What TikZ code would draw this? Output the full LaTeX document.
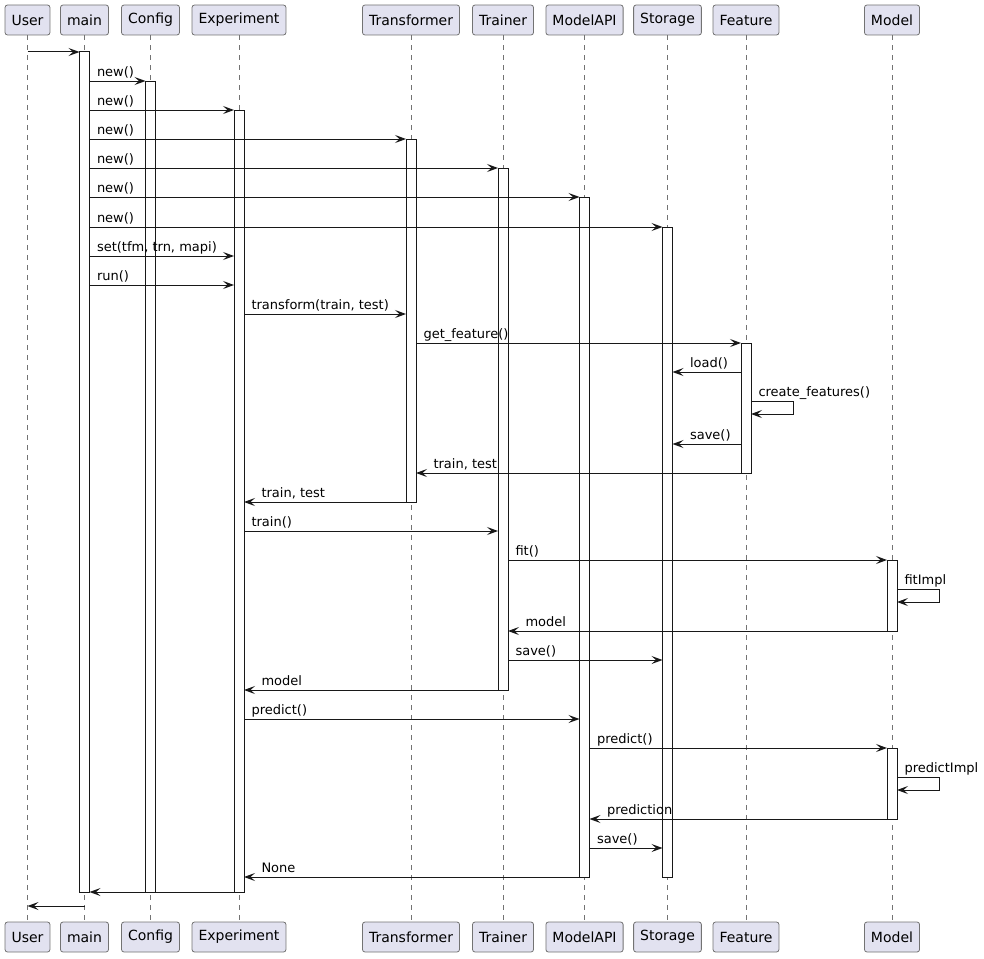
\documentclass[tikz,border=0pt]{standalone}
\usepackage{fontspec}
\setmainfont{DejaVu Sans}
\usetikzlibrary{arrows.meta}
\definecolor{partfill}{HTML}{E2E2F0}
\definecolor{ink}{HTML}{181818}
\tikzset{
  part/.style={draw=black!55, line width=0.8pt, fill=partfill, rounded corners=2.5pt,
    minimum height=30pt, inner xsep=6.5pt, inner ysep=0pt, font=\fontsize{14}{16}\selectfont},
  life/.style={draw=black!55, line width=0.6pt, dash pattern=on 5pt off 5pt},
  bar/.style={draw=ink, line width=1pt, fill=white, minimum width=10pt, inner sep=0pt,
    outer sep=0pt, anchor=north},
  msg/.style={draw=ink, line width=1pt, -{Stealth[length=11pt,width=8pt,inset=4.5pt]}},
  lbl/.style={anchor=base west, inner sep=0pt, yshift=5pt, font=\fontsize{13}{15}\selectfont}
}
\newcommand\actbar[4]{\node[bar, minimum height=#4pt-#3pt] (#1) at (#2 |- 0,#3) {};}
\newcommand\callto[4]{\draw[msg] (#1 |- 0,#3) node[lbl, xshift=7pt]{#4} -- (#2 |- 0,#3);}
\newcommand\callback[4]{\draw[msg] (#1 |- 0,#3) -- (#2 |- 0,#3) node[lbl, xshift=17pt]{#4};}
\newcommand\callself[4]{\draw[msg] (#1 |- 0,#2) node[lbl, xshift=7pt]{#4} -- ++(42,0) -- ++(0,13) -- (#1 |- 0,#3);}
\begin{document}
\begin{tikzpicture}[x=1pt, y=-1pt]
  \useasboundingbox (0,0) rectangle (984,958);

  % participants, top and bottom, with their lifelines
  \foreach \n/\x/\t in {user/27.5/User, main/84.5/main, config/150.5/Config, exp/239/Experiment,
      tfm/411/Transformer, trn/503/Trainer, mapi/584.5/ModelAPI, store/667.5/Storage,
      feat/746/Feature, model/892/Model}{
    \node[part] (\n) at (\x,20) {\t};
    \node[part] (\n-b) at (\x,937) {\t};
    \draw[life] (\n.south) -- (\n-b.north);
  }

  % activations
  \actbar{mainA}{main}{52}{892}
  \actbar{configA}{config}{81}{892}
  \actbar{expA}{exp}{110}{892}
  \actbar{tfmA}{tfm}{139}{502}
  \actbar{trnA}{trn}{168}{690}
  \actbar{mapiA}{mapi}{197}{877}
  \actbar{storeA}{store}{227}{877}
  \actbar{featA}{feat}{343}{473}
  \actbar{modelA}{model}{560}{631}
  \actbar{modelB}{model}{748}{819}

  % messages
  \draw[msg] (user |- 0,52) -- (mainA.west |- 0,52);
  \callto{mainA.east}{configA.west}{81}{new()}
  \callto{mainA.east}{expA.west}{110}{new()}
  \callto{mainA.east}{tfmA.west}{139}{new()}
  \callto{mainA.east}{trnA.west}{168}{new()}
  \callto{mainA.east}{mapiA.west}{197}{new()}
  \callto{mainA.east}{storeA.west}{227}{new()}
  \callto{mainA.east}{expA.west}{256}{set(tfm, trn, mapi)}
  \callto{mainA.east}{expA.west}{285}{run()}
  \callto{expA.east}{tfmA.west}{314}{transform(train, test)}
  \callto{tfmA.east}{featA.west}{343}{get\_feature()}
  \callback{featA.west}{storeA.east}{372}{load()}
  \callself{featA.east}{401}{414}{create\_features()}
  \callback{featA.west}{storeA.east}{444}{save()}
  \callback{featA.west}{tfmA.east}{473}{train, test}
  \callback{tfmA.west}{expA.east}{502}{train, test}
  \callto{expA.east}{trnA.west}{531}{train()}
  \callto{trnA.east}{modelA.west}{560}{fit()}
  \callself{modelA.east}{589}{602}{fitImpl}
  \callback{modelA.west}{trnA.east}{631}{model}
  \callto{trnA.east}{storeA.west}{660}{save()}
  \callback{trnA.west}{expA.east}{690}{model}
  \callto{expA.east}{mapiA.west}{719}{predict()}
  \callto{mapiA.east}{modelB.west}{748}{predict()}
  \callself{modelB.east}{777}{790}{predictImpl}
  \callback{modelB.west}{mapiA.east}{819}{prediction}
  \callto{mapiA.east}{storeA.west}{848}{save()}
  \callback{mapiA.west}{expA.east}{877}{None}
  \draw[msg] (expA.west |- 0,892) -- (mainA.east |- 0,892);
  \draw[msg] (main |- 0,906) -- (user |- 0,906);
\end{tikzpicture}
\end{document}
